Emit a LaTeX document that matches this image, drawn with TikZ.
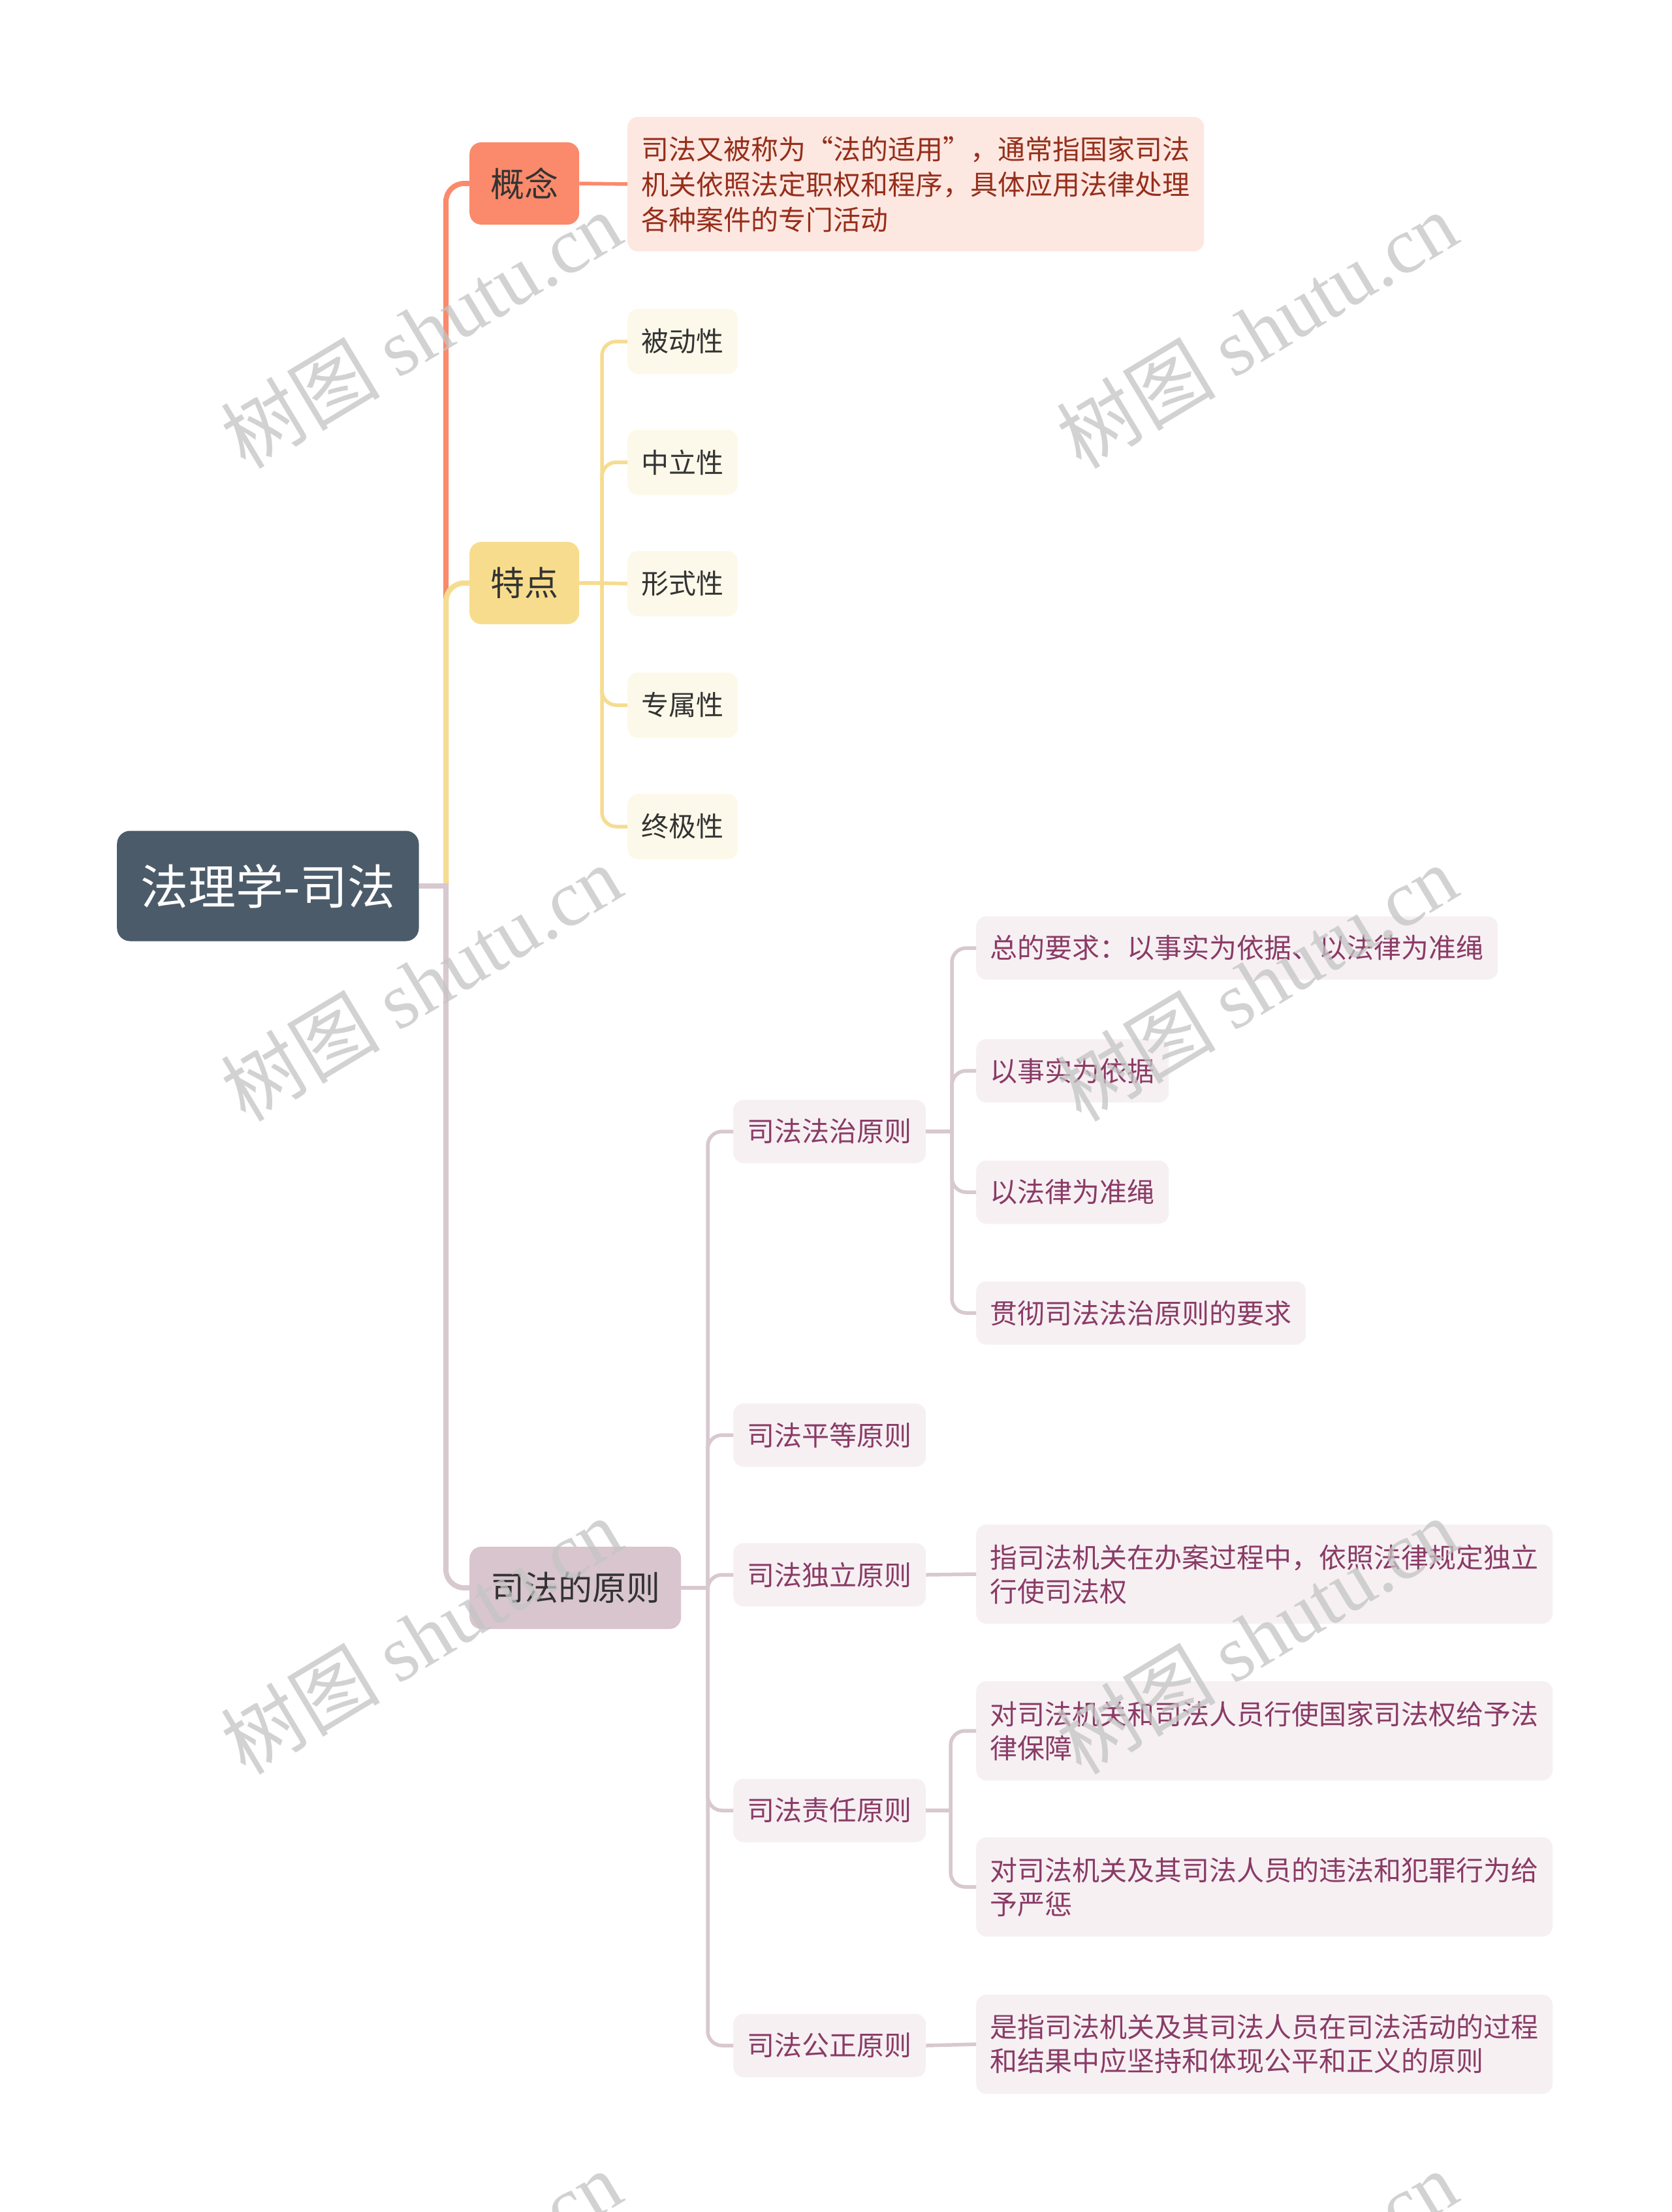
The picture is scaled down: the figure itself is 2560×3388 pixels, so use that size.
\documentclass[tikz,border=0pt]{standalone}
\usepackage{fontspec}
\setmainfont{Noto Sans CJK SC}
\newfontfamily\wmlat{Liberation Serif}
\definecolor{rootc}{HTML}{4B5B6A}
\definecolor{coral}{HTML}{FA8A6B}
\definecolor{conceptbg}{HTML}{FDE7E1}
\definecolor{concepttx}{HTML}{962E1A}
\definecolor{gold}{HTML}{F8DC8D}
\definecolor{goldline}{HTML}{F6DC91}
\definecolor{cream}{HTML}{FDF9EA}
\definecolor{mauve}{HTML}{D9C5CE}
\definecolor{mauveline}{HTML}{D8C8CF}
\definecolor{pinkbg}{HTML}{F6F0F3}
\definecolor{plum}{HTML}{8A3B66}
\definecolor{darktx}{HTML}{333333}
\definecolor{wmgray}{HTML}{C4C4C4}
\tikzset{
  box/.style={rounded corners=16, inner ysep=0pt, anchor=west, align=left},
  rootbox/.style={box, fill=rootc, text=white, font=\fontsize{73}{80}\selectfont, minimum height=169, inner xsep=36, rounded corners=20},
  lone/.style={box, text=darktx, font=\fontsize{52}{60}\selectfont, minimum height=126, inner xsep=32, rounded corners=18},
  ctext/.style={box, fill=conceptbg, text=concepttx, font=\fontsize{42}{54}\selectfont, minimum height=206, inner xsep=21.5},
  ybox/.style={box, fill=cream, text=darktx, font=\fontsize{42}{52}\selectfont, minimum height=100, inner xsep=21.5},
  pbox/.style={box, fill=pinkbg, text=plum, font=\fontsize{42}{52}\selectfont, minimum height=97, inner xsep=21.5},
  pbox2/.style={pbox, minimum height=152},
  mainline/.style={line width=8, rounded corners=28},
  subline/.style={line width=5.5, rounded corners=22},
  wm/.style={text=wmgray, opacity=0.75, rotate=31, font=\fontsize{122}{122}\selectfont, inner sep=0pt}
}
\begin{document}
\begin{tikzpicture}[x=1pt, y=-1pt]
\useasboundingbox (0,0) rectangle (2560,3388);
\clip (0,0) rectangle (2560,3388);
\fill[white] (0,0) rectangle (2560,3388);

% nodes
\node[rootbox] (root) at (179,1357) {法理学-司法};
\node[lone, fill=coral] (gn) at (719,281) {概念};
\node[ctext] (gt) at (961,282) {司法又被称为“法的适用”，通常指国家司法\\机关依照法定职权和程序，具体应用法律处理\\各种案件的专门活动};
\node[lone, fill=gold] (td) at (719,893) {特点};
\node[ybox] (y1) at (961,523) {被动性};
\node[ybox] (y2) at (961,708) {中立性};
\node[ybox] (y3) at (961,894) {形式性};
\node[ybox] (y4) at (961,1080) {专属性};
\node[ybox] (y5) at (961,1266) {终极性};
\node[lone, fill=mauve] (yz) at (719,2432) {司法的原则};

\node[pbox] (a) at (1123,1733) {司法法治原则};
\node[pbox] (b) at (1123,2198) {司法平等原则};
\node[pbox] (c) at (1123,2412) {司法独立原则};
\node[pbox] (d) at (1123,2773) {司法责任原则};
\node[pbox] (e) at (1123,3133) {司法公正原则};

\node[pbox] (a1) at (1495,1452) {总的要求：以事实为依据、以法律为准绳};
\node[pbox] (a2) at (1495,1640) {以事实为依据};
\node[pbox] (a3) at (1495,1826) {以法律为准绳};
\node[pbox] (a4) at (1495,2011) {贯彻司法法治原则的要求};
\node[pbox2] (c1) at (1495,2411) {指司法机关在办案过程中，依照法律规定独立\\行使司法权};
\node[pbox2] (d1) at (1495,2651) {对司法机关和司法人员行使国家司法权给予法\\律保障};
\node[pbox2] (d2) at (1495,2890) {对司法机关及其司法人员的违法和犯罪行为给\\予严惩};
\node[pbox2] (e1) at (1495,3131) {是指司法机关及其司法人员在司法活动的过程\\和结果中应坚持和体现公平和正义的原则};

% spine coordinates
\coordinate (s0) at (683,1357);
\coordinate (s1) at (922,893);
\coordinate (s2) at (1084,2432);
\coordinate (s3) at (1458,1733);
\coordinate (s4) at (1456,2773);

% main branches
\draw[mainline, coral] (s0) -- (s0 |- gn.west) -- (gn.west);
\draw[mainline, goldline] (s0) -- (s0 |- td.west) -- (td.west);
\draw[mainline, mauveline] (s0) -- (s0 |- yz.west) -- (yz.west);
\draw[mainline, mauveline, rounded corners=0] (root.east) -- ([xshift=4]s0);
\draw[subline, coral] (gn.east) -- (gt.west);

% yellow
\draw[subline, goldline] (td.east) -- (s1);
\foreach \n in {y1,y2,y4,y5} {
  \draw[subline, goldline] (s1) -- (s1 |- \n.west) -- (\n.west);
}
\draw[subline, goldline] (s1) -- (y3.west);

% pink level 2
\draw[subline, mauveline] (yz.east) -- (s2);
\foreach \n in {a,b,c,d,e} {
  \draw[subline, mauveline] (s2) -- (s2 |- \n.west) -- (\n.west);
}

% pink level 3
\draw[subline, mauveline] (a.east) -- (s3);
\foreach \n in {a1,a2,a3,a4} {
  \draw[subline, mauveline] (s3) -- (s3 |- \n.west) -- (\n.west);
}
\draw[subline, mauveline] (c.east) -- (c1.west);
\draw[subline, mauveline] (d.east) -- (s4);
\foreach \n in {d1,d2} {
  \draw[subline, mauveline] (s4) -- (s4 |- \n.west) -- (\n.west);
}
\draw[subline, mauveline] (e.east) -- (e1.west);

% watermarks
\foreach \wx/\wy [count=\i] in {645/505, 1925/505, 645/1505, 1925/1505, 645/2505, 1925/2505, 645/3505, 1925/3505} {
  \node[wm] (wm\i) at (\wx,\wy) {树图 {\wmlat shutu.cn}};
}
\end{tikzpicture}
\end{document}
